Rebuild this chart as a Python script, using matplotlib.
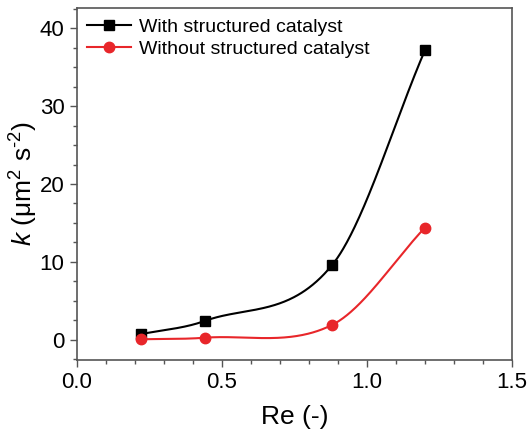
import numpy as np
import matplotlib
matplotlib.use("Agg")
import matplotlib.pyplot as plt
from matplotlib.ticker import MultipleLocator

re_vals = [0.22, 0.44, 0.88, 1.20]
k_with = [0.7, 2.4, 9.6, 37.2]
k_without = [0.05, 0.25, 1.9, 14.4]
labels = ["With structured catalyst", "Without structured catalyst"]

plt.rcParams["font.family"] = ["Liberation Sans", "DejaVu Sans"]
plt.rcParams["mathtext.fontset"] = "custom"
plt.rcParams["mathtext.rm"] = "Liberation Sans"
plt.rcParams["mathtext.it"] = "Liberation Sans:italic"


def smooth_line(x, y, n=300):
    # cubic Hermite through the points, Catmull-Rom style slopes
    x = np.asarray(x, float); y = np.asarray(y, float)
    h = np.diff(x); d = np.diff(y) / h
    m = np.empty_like(y)
    m[0], m[-1] = d[0], d[-1]
    m[1:-1] = (y[2:] - y[:-2]) / (x[2:] - x[:-2])
    xs = np.linspace(x[0], x[-1], n)
    idx = np.clip(np.searchsorted(x, xs) - 1, 0, len(x) - 2)
    t = (xs - x[idx]) / h[idx]
    h00 = 2 * t**3 - 3 * t**2 + 1; h10 = t**3 - 2 * t**2 + t
    h01 = -2 * t**3 + 3 * t**2; h11 = t**3 - t**2
    ys = h00 * y[idx] + h10 * h[idx] * m[idx] + h01 * y[idx + 1] + h11 * h[idx] * m[idx + 1]
    return xs, ys


fig = plt.figure(figsize=(5.27, 4.30), dpi=100)
ax = fig.add_axes([0.146, 0.163, 0.8255, 0.818])
ax.set_xlim(0, 1.5)
ax.set_ylim(-2.6, 42.6)

for yv, col, mk, ms, lab in [(k_with, "black", "s", 6.5, labels[0]),
                             (k_without, "#e8262a", "o", 7.5, labels[1])]:
    xs, ys = smooth_line(re_vals, yv)
    ax.plot(xs, ys, color=col, lw=1.5)
    ax.plot(re_vals, yv, ls="none", marker=mk, ms=ms, color=col)
    ax.plot([], [], color=col, lw=1.5, marker=mk, ms=ms, label=lab)

ax.xaxis.set_major_locator(MultipleLocator(0.5))
ax.xaxis.set_minor_locator(MultipleLocator(0.1))
ax.yaxis.set_major_locator(MultipleLocator(10))
ax.yaxis.set_minor_locator(MultipleLocator(2.5))
ax.tick_params(which="major", length=5, width=1, labelsize=16, color="#555555", pad=4)
ax.tick_params(which="minor", length=3, width=1, color="#555555")
for s in ax.spines.values():
    s.set_color("#555555"); s.set_linewidth(1.2)

ax.set_xlabel("Re (-)", fontsize=19, labelpad=8)
ax.set_ylabel("$k$ (μm$^2$ s$^{\u20102}$)", fontsize=19, labelpad=0)
ax.legend(loc="upper left", frameon=False, fontsize=14, handlelength=2.3,
          borderaxespad=0.3, borderpad=0.2, labelspacing=0.25, handletextpad=0.4)

fig.savefig("out.png", dpi=100)
